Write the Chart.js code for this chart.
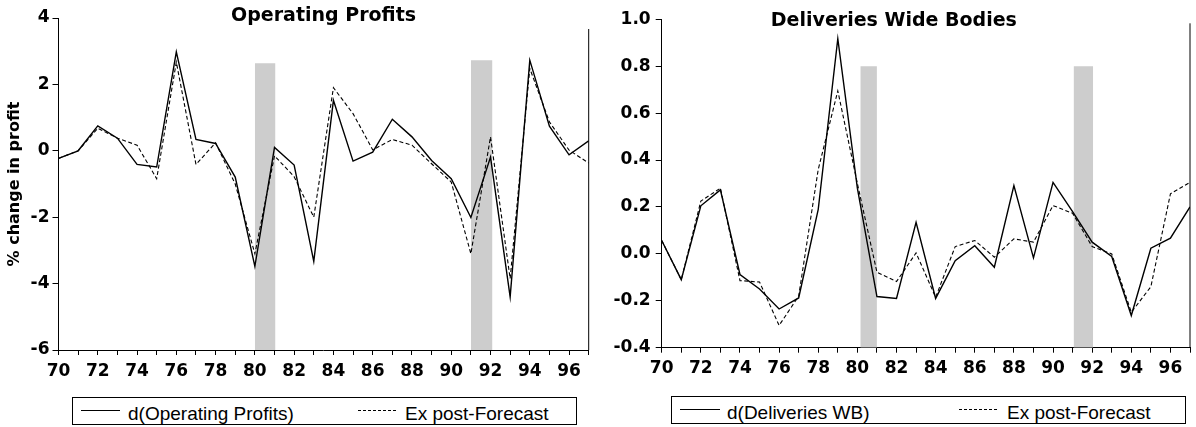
<!DOCTYPE html>
<html><head><meta charset="utf-8">
<script src="https://cdn.jsdelivr.net/npm/chart.js@4.4.1/dist/chart.umd.min.js"></script>
<style>
html,body{margin:0;padding:0;background:#fff;width:1196px;height:427px;overflow:hidden;position:relative}
canvas{position:absolute;top:0}
#c1{left:0}
#c2{left:598px}
.lg{position:absolute;border:1px solid #000;box-sizing:border-box}
.lt{position:absolute;font-family:"Liberation Sans",Arial,sans-serif;font-size:19px;line-height:19px;color:#000;white-space:nowrap}
svg{position:absolute;overflow:visible}
</style></head><body>
<canvas id="c1" width="598" height="395"></canvas>
<canvas id="c2" width="598" height="395"></canvas>

<div class="lg" style="left:72px;top:397px;width:505px;height:28px"></div>
<svg style="left:81px;top:410px" width="40" height="2"><line x1="0" y1="0.5" x2="39" y2="0.5" stroke="#000" stroke-width="1"/></svg>
<div class="lt" id="l1a" style="left:128px;top:404px"></div>
<svg style="left:358px;top:410px" width="40" height="2"><line x1="0" y1="0.5" x2="39" y2="0.5" stroke="#000" stroke-width="1" stroke-dasharray="3,2"/></svg>
<div class="lt" id="l1b" style="left:405px;top:404px"></div>

<div class="lg" style="left:671px;top:396px;width:515px;height:28px"></div>
<svg style="left:680px;top:409px" width="41" height="2"><line x1="0" y1="0.5" x2="40" y2="0.5" stroke="#000" stroke-width="1"/></svg>
<div class="lt" id="l2a" style="left:727px;top:403px"></div>
<svg style="left:959px;top:409px" width="40" height="2"><line x1="0" y1="0.5" x2="39" y2="0.5" stroke="#000" stroke-width="1" stroke-dasharray="3,2"/></svg>
<div class="lt" id="l2b" style="left:1007px;top:403px"></div>

<script>
// ---------- data ----------
const years = [70,71,72,73,74,75,76,77,78,79,80,81,82,83,84,85,86,87,88,89,90,91,92,93,94,95,96,97];

const opProfitsActual = [-0.23,0.0,0.75,0.38,-0.41,-0.49,2.98,0.34,0.22,-0.79,-3.48,0.10,-0.43,-3.33,1.52,-0.31,-0.04,0.95,0.42,-0.29,-0.84,-2.01,-0.19,-4.40,2.73,0.74,-0.12,0.30];
const opProfitsForecast = [-0.23,0.0,0.68,0.38,0.17,-0.84,2.67,-0.41,0.24,-1.00,-3.10,-0.15,-0.78,-2.00,1.90,1.12,0.03,0.34,0.17,-0.39,-0.94,-3.10,0.42,-3.85,2.48,0.87,0.02,-0.37];

const deliveriesActual = [0.057,-0.110,0.205,0.273,-0.088,-0.150,-0.235,-0.188,0.190,0.917,0.280,-0.182,-0.190,0.135,-0.190,-0.029,0.035,-0.057,0.291,-0.017,0.305,0.180,0.050,-0.011,-0.263,0.024,0.067,0.200];
const deliveriesForecast = [0.057,-0.110,0.225,0.280,-0.114,-0.120,-0.305,-0.180,0.360,0.695,0.300,-0.078,-0.118,0.004,-0.185,0.031,0.057,-0.014,0.064,0.050,0.206,0.173,0.031,0.000,-0.249,-0.140,0.256,0.305];

// shaded periods: [start year, end year]
const opShadeYears = [[80,81.05],[91,92.1]];
const opShadeTops = [2.64,2.73];
const delShadeYears = [[80.15,81],[91.05,92.05]];
const delShadeTops = [0.8,0.8];

const opYTicks = [-6,-4,-2,0,2,4];
const delYTicks = [-0.4,-0.2,0.0,0.2,0.4,0.6,0.8,1.0];

const titles = ["Operating Profits","Deliveries Wide Bodies"];
const yTitleLeft = "% change in profit";
const legendLabels = [["d(Operating Profits)","Ex post-Forecast"],["d(Deliveries WB)","Ex post-Forecast"]];

document.getElementById('l1a').textContent = legendLabels[0][0];
document.getElementById('l1b').textContent = legendLabels[0][1];
document.getElementById('l2a').textContent = legendLabels[1][0];
document.getElementById('l2b').textContent = legendLabels[1][1];

// ---------- helpers ----------
const TICK_FONT = {family:"'DejaVu Sans', sans-serif", size:17, weight:'bold'};

function pts(vals){ return years.map((y,i)=>({x:y, y:vals[i]})); }

function shadeSets(spans, tops){
  return spans.map((s,i)=>({
    data:[{x:s[0],y:tops[i]},{x:s[1],y:tops[i]}],
    fill:'start', backgroundColor:'#cdcdcd', borderWidth:0, pointRadius:0, order:5
  }));
}

function chartTitlePlugin(text, baseline, shift){
  return {
    id:'ttl',
    afterDraw(chart){
      const ctx = chart.ctx, a = chart.chartArea;
      ctx.save();
      ctx.font = "bold 19px 'DejaVu Sans', sans-serif";
      ctx.fillStyle = '#000';
      ctx.textAlign = 'center';
      ctx.textBaseline = 'alphabetic';
      ctx.fillText(text, (a.left + a.right)/2 + shift, baseline);
      ctx.restore();
    }
  };
}

function rightBorderPlugin(gap){
  return {
    id:'rb',
    afterDraw(chart){
      const ctx = chart.ctx, a = chart.chartArea;
      ctx.save();
      ctx.strokeStyle = '#000';
      ctx.lineWidth = 1;
      ctx.beginPath();
      ctx.moveTo(a.right, a.top + gap);
      ctx.lineTo(a.right, a.bottom);
      ctx.stroke();
      ctx.restore();
    }
  };
}

function makeChart(id, cfg){
  const datasets = [
    ...shadeSets(cfg.shadeSpans, cfg.shadeTops),
    {data:pts(cfg.actual), borderColor:'#000', borderWidth:1.4, pointRadius:0, tension:0, fill:false, order:0},
    {data:pts(cfg.forecast), borderColor:'#000', borderWidth:1.1, borderDash:[4,2.5], pointRadius:0, tension:0, fill:false, order:1}
  ];
  return new Chart(document.getElementById(id), {
    type:'line',
    data:{datasets},
    options:{
      responsive:false, animation:false, devicePixelRatio:1,
      layout:{padding:{top:cfg.padTop, right:cfg.padRight, left:0, bottom:0}},
      plugins:{legend:{display:false}, tooltip:{enabled:false}, title:{display:false}},
      scales:{
        x:{
          type:'linear', min:years[0], max:years[years.length-1],
          afterFit(s){ s.height = cfg.xHeight; },
          border:{display:true, color:'#000', width:1},
          grid:{drawOnChartArea:false, drawTicks:true, tickLength:5, color:'#000'},
          ticks:{stepSize:1, autoSkip:false, maxRotation:0, minRotation:0, padding:6, color:'#000', font:TICK_FONT,
            callback:v => (v % 2 === 0 ? String(v) : '')}
        },
        y:{
          type:'linear', min:cfg.yTicks[0], max:cfg.yTicks[cfg.yTicks.length-1],
          afterFit(s){ s.width = cfg.yWidth; },
          afterBuildTicks(s){ s.ticks = cfg.yTicks.map(v=>({value:v})); },
          border:{display:true, color:'#000', width:1},
          grid:{drawOnChartArea:false, drawTicks:true, tickLength:6, color:'#000'},
          title:{display:!!cfg.yTitle, text:cfg.yTitle||'', color:'#000', font:{family:"'DejaVu Sans', sans-serif", size:16, weight:'bold'}, padding:{top:5,bottom:4}},
          ticks:{padding:cfg.yPad, color:'#000', font:TICK_FONT, callback:cfg.yFmt}
        }
      }
    },
    plugins:[chartTitlePlugin(cfg.title, cfg.titleBase, cfg.titleShift), rightBorderPlugin(cfg.borderGap)]
  });
}

makeChart('c1', {
  actual:opProfitsActual, forecast:opProfitsForecast,
  shadeSpans:opShadeYears, shadeTops:opShadeTops,
  yTicks:opYTicks, yFmt:v=>String(v), yTitle:yTitleLeft,
  title:titles[0], titleBase:21, titleShift:0,
  padTop:18, padRight:9.3, xHeight:45, yWidth:58.5, yPad:3, borderGap:11
});

makeChart('c2', {
  actual:deliveriesActual, forecast:deliveriesForecast,
  shadeSpans:delShadeYears, shadeTops:delShadeTops,
  yTicks:delYTicks, yFmt:v=>Number(v).toFixed(1), yTitle:null,
  title:titles[1], titleBase:26, titleShift:-32,
  padTop:19.3, padRight:2.5, xHeight:47.3, yWidth:63.7, yPad:5, borderGap:4
});
</script>
</body></html>
